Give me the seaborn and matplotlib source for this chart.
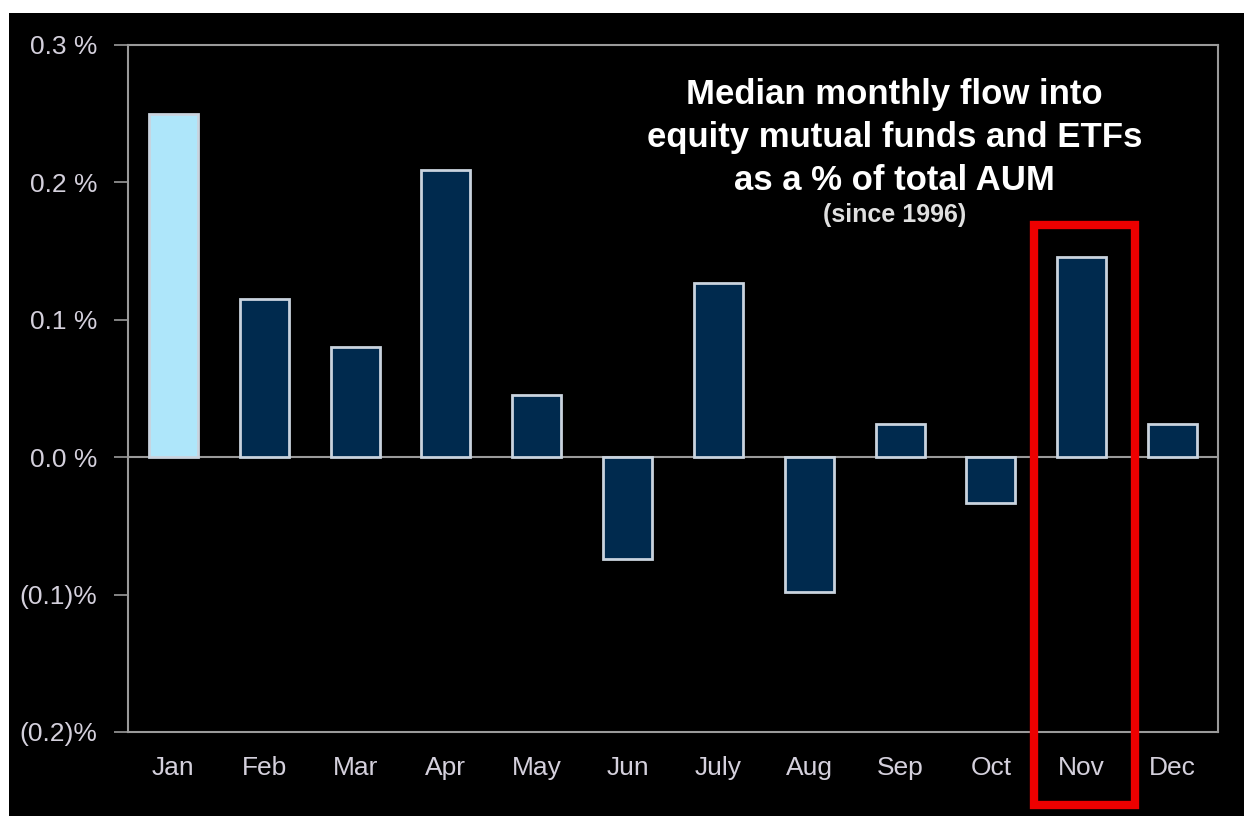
import matplotlib
matplotlib.use("Agg")
import matplotlib.pyplot as plt
import matplotlib.patches as mpatches
import seaborn as sns
import pandas as pd

# Data (% of total AUM)
months = ["Jan", "Feb", "Mar", "Apr", "May", "Jun",
          "July", "Aug", "Sep", "Oct", "Nov", "Dec"]
flows = [0.250, 0.115, 0.080, 0.209, 0.045, -0.074,
         0.127, -0.098, 0.024, -0.033, 0.146, 0.024]
y_ticks = [-0.2, -0.1, 0.0, 0.1, 0.2, 0.3]
y_labels = ["(0.2)%", "(0.1)%", "0.0 %", "0.1 %", "0.2 %", "0.3 %"]
highlight = "Nov"

df = pd.DataFrame({"month": months, "flow": flows})

sns.set_theme(style="dark")
plt.rcParams["font.family"] = ["Liberation Sans", "DejaVu Sans"]

light_txt = "#d4d0dc"
spine_col = "#9a9a9a"
bar_cols = ["#aee6fa"] + ["#002a4e"] * (len(months) - 1)

fig = plt.figure(figsize=(12.44, 8.16), dpi=100, facecolor="white")
# black slide background, small white margin top/left as in the screenshot
fig.add_artist(mpatches.Rectangle((9 / 1244, 0), 1, 1 - 13 / 816,
                                  transform=fig.transFigure,
                                  facecolor="black", edgecolor="none", zorder=-10))

ax = fig.add_axes([128 / 1244, 84 / 816, 1090 / 1244, 687 / 816])
ax.set_facecolor("black")

sns.barplot(data=df, x="month", y="flow", hue="month", palette=bar_cols,
            legend=False, width=0.54, edgecolor="#c9d3de", linewidth=2,
            saturation=1, ax=ax, zorder=3)

ax.set_ylim(-0.2, 0.3)
ax.set_xlim(-0.5, len(months) - 0.5)
ax.set_yticks(y_ticks)
ax.set_yticklabels(y_labels)
ax.set_xlabel("")
ax.set_ylabel("")
ax.grid(False)

for s in ax.spines.values():
    s.set_visible(True)
    s.set_color(spine_col)
    s.set_linewidth(1.5)

ax.axhline(0, color=spine_col, linewidth=1.5, zorder=2)

ax.tick_params(axis="y", colors=spine_col, labelcolor=light_txt,
               labelsize=19, length=10, width=1.2, pad=12, left=True)
ax.tick_params(axis="x", colors=spine_col, labelcolor=light_txt,
               labelsize=19, length=0, pad=17)

# title block
ax.text(0.703, 0.952, "Median monthly flow into\nequity mutual funds and ETFs\nas a % of total AUM",
        transform=ax.transAxes, ha="center", va="top", color="white",
        fontsize=25, fontweight="bold", linespacing=1.38)
ax.text(0.703, 0.752, "(since 1996)", transform=ax.transAxes, ha="center",
        va="center", color="#e0e0e0", fontsize=18, fontweight="bold")

# red highlight box around November
i = months.index(highlight)
box = mpatches.Rectangle((i - 0.53, -0.253), 1.12, 0.422, fill=False,
                         edgecolor="#ee0000", linewidth=6, clip_on=False, zorder=5)
ax.add_patch(box)

fig.savefig("out.png", dpi=100, facecolor=fig.get_facecolor())
